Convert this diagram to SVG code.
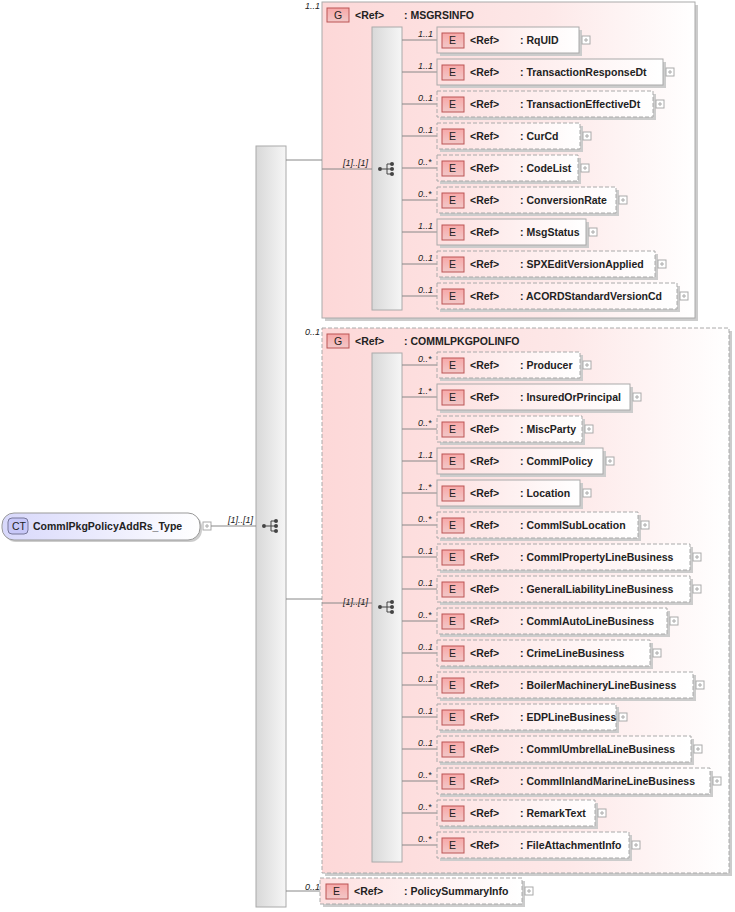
<svg xmlns="http://www.w3.org/2000/svg" width="735" height="912" viewBox="0 0 735 912">
<defs>
<linearGradient id="gp" x1="0" y1="0" x2="1" y2="0"><stop offset="0" stop-color="#fdd8d8"/><stop offset="0.6" stop-color="#fde8e8"/><stop offset="1" stop-color="#ffffff"/></linearGradient>
<linearGradient id="ep" x1="0" y1="0" x2="1" y2="0"><stop offset="0" stop-color="#fde0e0"/><stop offset="1" stop-color="#ffffff"/></linearGradient>
<linearGradient id="bar" x1="0" y1="0" x2="1" y2="0"><stop offset="0" stop-color="#d8d8d8"/><stop offset="1" stop-color="#f6f6f6"/></linearGradient>
<linearGradient id="ct" x1="0" y1="0" x2="1" y2="0"><stop offset="0" stop-color="#d8d8fb"/><stop offset="1" stop-color="#ffffff"/></linearGradient>
<linearGradient id="badge" x1="0" y1="0" x2="0" y2="1"><stop offset="0" stop-color="#f7a8a8"/><stop offset="1" stop-color="#f2c8c8"/></linearGradient>
<g id="seq"><circle cx="-7" cy="0" r="2" fill="#444"/><path d="M-5 0H0M0 -5V5M0 -5H4M0 0H4M0 5H4" stroke="#444" fill="none"/><circle cx="5" cy="-5" r="2" fill="#444"/><circle cx="5" cy="0" r="2" fill="#444"/><circle cx="5" cy="5" r="2" fill="#444"/></g>
<g id="plus"><rect x="0" y="-4" width="8" height="8" fill="#fff" stroke="#aaa"/><path d="M2 0H6M4 -2V2" stroke="#aaa"/></g>
</defs>
<style>
text{font-family:"Liberation Sans",Arial,sans-serif;font-size:10.5px;font-weight:bold;fill:#222}
.c{font-size:9px;font-weight:normal;font-style:italic}
.b{font-weight:normal;fill:#222}
.el{fill:url(#ep);stroke:#aaa}
.dash{stroke-dasharray:4,2}
.sh{fill:#ccc}
.bd{fill:url(#badge);stroke:#b55}
.ln{stroke:#888;fill:none}
</style>
<g id="ct-node"><rect x="4" y="515" width="198" height="27" rx="12" class="sh"/><rect x="2" y="513" width="198" height="27" rx="12" fill="url(#ct)" stroke="#999"/><rect x="8" y="518" width="20" height="16" rx="4" fill="#c8c8f8" stroke="#779"/><text x="12" y="530" class="b">CT</text><text x="33" y="530">CommlPkgPolicyAddRs_Type</text><use href="#plus" x="203" y="526"/></g>
<g id="main-seq"><rect x="256" y="146" width="30" height="761" fill="url(#bar)" stroke="#aaa"/><use href="#seq" x="271" y="526"/></g>
<g id="msgrsinfo"><rect x="325" y="5" width="373" height="316" class="sh"/><rect x="322" y="2" width="373" height="316" fill="url(#gp)" stroke="#aaa"/><text class="c" x="305" y="9">1..1</text><rect x="327" y="8" width="22" height="14" class="bd"/><text x="334" y="19" class="b">G</text><text x="355" y="19">&lt;Ref&gt;</text><text x="404" y="19">: MSGRSINFO</text><rect x="372" y="27" width="30" height="283" fill="url(#bar)" stroke="#aaa"/><use href="#seq" x="387" y="169"/></g>
<g id="commlpkgpolinfo"><rect x="325" y="331" width="407" height="545" class="sh"/><rect x="322" y="328" width="407" height="545" fill="url(#gp)" stroke="#aaa" class="dash"/><text class="c" x="305" y="335">0..1</text><rect x="327" y="334" width="22" height="14" class="bd"/><text x="334" y="345" class="b">G</text><text x="355" y="345">&lt;Ref&gt;</text><text x="404" y="345">: COMMLPKGPOLINFO</text><rect x="372" y="353" width="30" height="509" fill="url(#bar)" stroke="#aaa"/><use href="#seq" x="387" y="607"/></g>
<g id="connectors">
<path class="ln" d="M211 526H256M286 160H322M286 599H322M286 891H320M322 169H372M322 603H372"/>
<path class="ln" d="M402 40H437M402 72H437M402 104H437M402 136H437M402 168H437M402 200H437M402 232H437M402 264H437M402 296H437"/>
<path class="ln" d="M402 365H437M402 397H437M402 429H437M402 461H437M402 493H437M402 525H437M402 557H437M402 589H437M402 621H437M402 653H437M402 685H437M402 717H437M402 749H437M402 781H437M402 813H437M402 845H437"/>
<text class="c" x="228" y="523">[1]..[1]</text>
<text class="c" x="343" y="166">[1]..[1]</text>
<text class="c" x="343" y="605">[1]..[1]</text>
<text class="c" x="305" y="890">0..1</text>
</g>
<g id="elements">
<g id="e-RqUID"><rect x="440" y="30" width="142" height="26" class="sh"/><rect x="437" y="27" width="142" height="26" class="el"/><text class="c" x="418" y="37">1..1</text><rect x="442" y="33" width="22" height="15" class="bd"/><text x="449" y="44" class="b">E</text><text x="470" y="44">&lt;Ref&gt;</text><text x="520" y="44">: RqUID</text><use href="#plus" x="582" y="40"/></g>
<g id="e-TRD"><rect x="440" y="62" width="226" height="26" class="sh"/><rect x="437" y="59" width="226" height="26" class="el"/><text class="c" x="418" y="69">1..1</text><rect x="442" y="65" width="22" height="15" class="bd"/><text x="449" y="76" class="b">E</text><text x="470" y="76">&lt;Ref&gt;</text><text x="520" y="76">: TransactionResponseDt</text><use href="#plus" x="666" y="72"/></g>
<g id="e-TED"><rect x="440" y="94" width="216" height="26" class="sh"/><rect x="437" y="91" width="216" height="26" class="el dash"/><text class="c" x="418" y="101">0..1</text><rect x="442" y="97" width="22" height="15" class="bd"/><text x="449" y="108" class="b">E</text><text x="470" y="108">&lt;Ref&gt;</text><text x="520" y="108">: TransactionEffectiveDt</text><use href="#plus" x="656" y="104"/></g>
<g id="e-CurCd"><rect x="440" y="126" width="143" height="26" class="sh"/><rect x="437" y="123" width="143" height="26" class="el dash"/><text class="c" x="418" y="133">0..1</text><rect x="442" y="129" width="22" height="15" class="bd"/><text x="449" y="140" class="b">E</text><text x="470" y="140">&lt;Ref&gt;</text><text x="520" y="140">: CurCd</text><use href="#plus" x="583" y="136"/></g>
<g id="e-CodeList"><rect x="440" y="158" width="141" height="26" class="sh"/><rect x="437" y="155" width="141" height="26" class="el dash"/><text class="c" x="418" y="165">0..*</text><rect x="442" y="161" width="22" height="15" class="bd"/><text x="449" y="172" class="b">E</text><text x="470" y="172">&lt;Ref&gt;</text><text x="520" y="172">: CodeList</text><use href="#plus" x="581" y="168"/></g>
<g id="e-ConversionRate"><rect x="440" y="190" width="179" height="26" class="sh"/><rect x="437" y="187" width="179" height="26" class="el dash"/><text class="c" x="418" y="197">0..*</text><rect x="442" y="193" width="22" height="15" class="bd"/><text x="449" y="204" class="b">E</text><text x="470" y="204">&lt;Ref&gt;</text><text x="520" y="204">: ConversionRate</text><use href="#plus" x="619" y="200"/></g>
<g id="e-MsgStatus"><rect x="440" y="222" width="149" height="26" class="sh"/><rect x="437" y="219" width="149" height="26" class="el"/><text class="c" x="418" y="229">1..1</text><rect x="442" y="225" width="22" height="15" class="bd"/><text x="449" y="236" class="b">E</text><text x="470" y="236">&lt;Ref&gt;</text><text x="520" y="236">: MsgStatus</text><use href="#plus" x="589" y="232"/></g>
<g id="e-SPX"><rect x="440" y="254" width="218" height="26" class="sh"/><rect x="437" y="251" width="218" height="26" class="el dash"/><text class="c" x="418" y="261">0..1</text><rect x="442" y="257" width="22" height="15" class="bd"/><text x="449" y="268" class="b">E</text><text x="470" y="268">&lt;Ref&gt;</text><text x="520" y="268">: SPXEditVersionApplied</text><use href="#plus" x="658" y="264"/></g>
<g id="e-ACORD"><rect x="440" y="286" width="240" height="26" class="sh"/><rect x="437" y="283" width="240" height="26" class="el dash"/><text class="c" x="418" y="293">0..1</text><rect x="442" y="289" width="22" height="15" class="bd"/><text x="449" y="300" class="b">E</text><text x="470" y="300">&lt;Ref&gt;</text><text x="520" y="300">: ACORDStandardVersionCd</text><use href="#plus" x="680" y="296"/></g>

<g id="e-Producer"><rect x="440" y="355" width="143" height="26" class="sh"/><rect x="437" y="352" width="143" height="26" class="el dash"/><text class="c" x="418" y="362">0..*</text><rect x="442" y="358" width="22" height="15" class="bd"/><text x="449" y="369" class="b">E</text><text x="470" y="369">&lt;Ref&gt;</text><text x="520" y="369">: Producer</text><use href="#plus" x="583" y="365"/></g>
<g id="e-IOP"><rect x="440" y="387" width="193" height="26" class="sh"/><rect x="437" y="384" width="193" height="26" class="el"/><text class="c" x="418" y="394">1..*</text><rect x="442" y="390" width="22" height="15" class="bd"/><text x="449" y="401" class="b">E</text><text x="470" y="401">&lt;Ref&gt;</text><text x="520" y="401">: InsuredOrPrincipal</text><use href="#plus" x="633" y="397"/></g>
<g id="e-MiscParty"><rect x="440" y="419" width="145" height="26" class="sh"/><rect x="437" y="416" width="145" height="26" class="el dash"/><text class="c" x="418" y="426">0..*</text><rect x="442" y="422" width="22" height="15" class="bd"/><text x="449" y="433" class="b">E</text><text x="470" y="433">&lt;Ref&gt;</text><text x="520" y="433">: MiscParty</text><use href="#plus" x="585" y="429"/></g>
<g id="e-CommlPolicy"><rect x="440" y="451" width="166" height="26" class="sh"/><rect x="437" y="448" width="166" height="26" class="el"/><text class="c" x="418" y="458">1..1</text><rect x="442" y="454" width="22" height="15" class="bd"/><text x="449" y="465" class="b">E</text><text x="470" y="465">&lt;Ref&gt;</text><text x="520" y="465">: CommlPolicy</text><use href="#plus" x="606" y="461"/></g>
<g id="e-Location"><rect x="440" y="483" width="143" height="26" class="sh"/><rect x="437" y="480" width="143" height="26" class="el"/><text class="c" x="418" y="490">1..*</text><rect x="442" y="486" width="22" height="15" class="bd"/><text x="449" y="497" class="b">E</text><text x="470" y="497">&lt;Ref&gt;</text><text x="520" y="497">: Location</text><use href="#plus" x="583" y="493"/></g>
<g id="e-CommlSubLocation"><rect x="440" y="515" width="201" height="26" class="sh"/><rect x="437" y="512" width="201" height="26" class="el dash"/><text class="c" x="418" y="522">0..*</text><rect x="442" y="518" width="22" height="15" class="bd"/><text x="449" y="529" class="b">E</text><text x="470" y="529">&lt;Ref&gt;</text><text x="520" y="529">: CommlSubLocation</text><use href="#plus" x="641" y="525"/></g>
<g id="e-CPLB"><rect x="440" y="547" width="253" height="26" class="sh"/><rect x="437" y="544" width="253" height="26" class="el dash"/><text class="c" x="418" y="554">0..1</text><rect x="442" y="550" width="22" height="15" class="bd"/><text x="449" y="561" class="b">E</text><text x="470" y="561">&lt;Ref&gt;</text><text x="520" y="561">: CommlPropertyLineBusiness</text><use href="#plus" x="693" y="557"/></g>
<g id="e-GLLB"><rect x="440" y="579" width="253" height="26" class="sh"/><rect x="437" y="576" width="253" height="26" class="el dash"/><text class="c" x="418" y="586">0..1</text><rect x="442" y="582" width="22" height="15" class="bd"/><text x="449" y="593" class="b">E</text><text x="470" y="593">&lt;Ref&gt;</text><text x="520" y="593">: GeneralLiabilityLineBusiness</text><use href="#plus" x="693" y="589"/></g>
<g id="e-CALB"><rect x="440" y="611" width="230" height="26" class="sh"/><rect x="437" y="608" width="230" height="26" class="el dash"/><text class="c" x="418" y="618">0..*</text><rect x="442" y="614" width="22" height="15" class="bd"/><text x="449" y="625" class="b">E</text><text x="470" y="625">&lt;Ref&gt;</text><text x="520" y="625">: CommlAutoLineBusiness</text><use href="#plus" x="670" y="621"/></g>
<g id="e-Crime"><rect x="440" y="643" width="213" height="26" class="sh"/><rect x="437" y="640" width="213" height="26" class="el dash"/><text class="c" x="418" y="650">0..1</text><rect x="442" y="646" width="22" height="15" class="bd"/><text x="449" y="657" class="b">E</text><text x="470" y="657">&lt;Ref&gt;</text><text x="520" y="657">: CrimeLineBusiness</text><use href="#plus" x="653" y="653"/></g>
<g id="e-Boiler"><rect x="440" y="675" width="256" height="26" class="sh"/><rect x="437" y="672" width="256" height="26" class="el dash"/><text class="c" x="418" y="682">0..1</text><rect x="442" y="678" width="22" height="15" class="bd"/><text x="449" y="689" class="b">E</text><text x="470" y="689">&lt;Ref&gt;</text><text x="520" y="689">: BoilerMachineryLineBusiness</text><use href="#plus" x="696" y="685"/></g>
<g id="e-EDP"><rect x="440" y="707" width="179" height="26" class="sh"/><rect x="437" y="704" width="179" height="26" class="el dash"/><text class="c" x="418" y="714">0..1</text><rect x="442" y="710" width="22" height="15" class="bd"/><text x="449" y="721" class="b">E</text><text x="470" y="721">&lt;Ref&gt;</text><text x="520" y="721">: EDPLineBusiness</text><use href="#plus" x="619" y="717"/></g>
<g id="e-Umbrella"><rect x="440" y="739" width="254" height="26" class="sh"/><rect x="437" y="736" width="254" height="26" class="el dash"/><text class="c" x="418" y="746">0..1</text><rect x="442" y="742" width="22" height="15" class="bd"/><text x="449" y="753" class="b">E</text><text x="470" y="753">&lt;Ref&gt;</text><text x="520" y="753">: CommlUmbrellaLineBusiness</text><use href="#plus" x="694" y="749"/></g>
<g id="e-Inland"><rect x="440" y="771" width="273" height="26" class="sh"/><rect x="437" y="768" width="273" height="26" class="el dash"/><text class="c" x="418" y="778">0..*</text><rect x="442" y="774" width="22" height="15" class="bd"/><text x="449" y="785" class="b">E</text><text x="470" y="785">&lt;Ref&gt;</text><text x="520" y="785">: CommlInlandMarineLineBusiness</text><use href="#plus" x="713" y="781"/></g>
<g id="e-RemarkText"><rect x="440" y="803" width="158" height="26" class="sh"/><rect x="437" y="800" width="158" height="26" class="el dash"/><text class="c" x="418" y="810">0..*</text><rect x="442" y="806" width="22" height="15" class="bd"/><text x="449" y="817" class="b">E</text><text x="470" y="817">&lt;Ref&gt;</text><text x="520" y="817">: RemarkText</text><use href="#plus" x="598" y="813"/></g>
<g id="e-FileAttachmentInfo"><rect x="440" y="835" width="192" height="26" class="sh"/><rect x="437" y="832" width="192" height="26" class="el dash"/><text class="c" x="418" y="842">0..*</text><rect x="442" y="838" width="22" height="15" class="bd"/><text x="449" y="849" class="b">E</text><text x="470" y="849">&lt;Ref&gt;</text><text x="520" y="849">: FileAttachmentInfo</text><use href="#plus" x="632" y="845"/></g>
<g id="e-PolicySummaryInfo"><rect x="323" y="881" width="202" height="26" class="sh"/><rect x="320" y="878" width="202" height="26" class="el dash"/><rect x="326" y="884" width="22" height="15" class="bd"/><text x="333" y="895" class="b">E</text><text x="354" y="895">&lt;Ref&gt;</text><text x="404" y="895">: PolicySummaryInfo</text><use href="#plus" x="525" y="891"/></g>
</g>
</svg>
